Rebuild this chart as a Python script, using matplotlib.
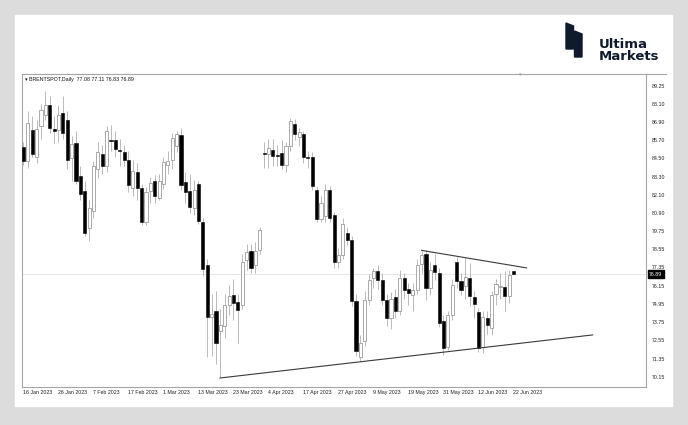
import matplotlib
matplotlib.use('Agg')
import matplotlib.pyplot as plt
from matplotlib.patches import Rectangle, Polygon
import numpy as np

# daily OHLC, 16 Jan 2023 .. 22 Jun 2023 (one bar per trading day)
opens = [85.23, 84.31, 86.39, 84.57, 86.61, 87.37, 88.03, 86.43, 86.39, 87.50,
         87.04, 84.53, 85.49, 83.37, 82.34, 79.93, 81.07, 83.83, 84.79, 83.98,
         85.69, 85.71, 85.05, 84.92, 84.42, 82.56, 83.61, 82.56, 80.33, 82.34,
         83.00, 81.90, 82.82, 84.04, 84.42, 85.29, 86.02, 82.95, 82.38, 81.25,
         82.82, 80.33, 77.48, 74.07, 74.46, 73.15, 73.47, 74.90, 75.55, 75.07,
         74.90, 77.85, 78.44, 77.52, 78.51, 84.82, 84.79, 85.07, 84.72, 84.86,
         84.05, 85.29, 86.76, 85.88, 86.10, 84.57, 84.57, 82.45, 80.54, 80.70,
         82.40, 80.81, 77.70, 78.18, 79.60, 79.17, 75.16, 71.44, 72.49, 75.23,
         76.65, 77.13, 76.54, 75.23, 74.02, 75.38, 74.46, 76.65, 75.95, 75.51,
         75.88, 77.57, 78.22, 75.99, 77.48, 76.98, 73.80, 72.09, 74.20, 77.68,
         76.43, 76.10, 76.65, 75.38, 74.42, 72.09, 74.02, 73.37, 75.62, 76.04,
         76.04, 75.49, 77.08]
highs = [85.60, 87.59, 87.30, 87.00, 88.10, 88.95, 88.58, 87.30, 88.00, 88.58,
         87.60, 86.00, 86.30, 84.00, 83.00, 81.80, 84.30, 85.60, 85.40, 86.60,
         86.70, 86.30, 85.80, 85.40, 85.00, 84.40, 84.20, 82.80, 82.60, 83.30,
         83.40, 83.50, 84.60, 85.00, 86.20, 86.32, 86.50, 83.60, 83.50, 83.10,
         83.00, 80.60, 77.90, 75.60, 75.80, 74.60, 75.60, 76.20, 76.60, 75.60,
         78.20, 78.90, 78.90, 79.00, 80.00, 85.60, 85.80, 85.80, 85.40, 85.70,
         85.60, 87.15, 87.10, 86.50, 86.30, 85.00, 84.90, 82.70, 82.00, 82.80,
         82.70, 81.00, 78.60, 80.60, 80.00, 79.40, 75.60, 72.90, 75.80, 76.90,
         77.30, 77.50, 77.00, 75.60, 75.70, 75.90, 77.20, 77.00, 76.30, 76.30,
         77.90, 78.40, 78.50, 77.70, 78.20, 77.30, 74.20, 74.50, 76.60, 78.00,
         77.00, 78.00, 77.60, 75.80, 74.70, 74.50, 74.50, 75.80, 76.60, 77.00,
         77.10, 77.20, 77.11]
lows = [84.05, 83.90, 84.60, 84.20, 85.80, 87.00, 86.20, 85.50, 85.60, 85.80,
        83.80, 83.00, 82.80, 81.80, 79.40, 79.06, 80.60, 83.20, 83.50, 83.60,
        85.00, 84.60, 84.00, 84.00, 82.30, 82.00, 81.80, 80.10, 80.10, 81.60,
        81.60, 81.80, 82.50, 83.50, 83.80, 84.90, 82.40, 81.60, 80.90, 80.80,
        80.20, 76.80, 71.44, 71.50, 71.00, 70.12, 72.70, 74.20, 73.90, 72.40,
        74.60, 77.20, 77.00, 77.00, 78.20, 83.90, 83.90, 84.00, 84.00, 83.80,
        83.60, 85.00, 85.70, 85.30, 84.20, 83.90, 82.40, 80.30, 80.30, 80.30,
        80.30, 77.30, 77.30, 77.90, 78.80, 74.80, 71.50, 71.20, 72.20, 74.90,
        76.00, 75.90, 74.90, 73.50, 73.30, 74.00, 74.20, 75.30, 74.90, 74.50,
        75.60, 77.00, 75.20, 75.50, 76.50, 73.40, 71.60, 71.90, 73.90, 76.00,
        75.50, 75.30, 74.80, 74.00, 71.80, 71.70, 73.00, 72.90, 74.90, 75.30,
        74.50, 75.00, 76.83]
closes = [84.31, 86.83, 84.79, 86.45, 87.70, 88.03, 86.50, 86.32, 87.37, 86.17,
          84.42, 85.45, 83.00, 82.19, 79.60, 81.25, 83.98, 84.92, 84.02, 86.28,
          85.62, 85.14, 84.99, 84.40, 82.73, 83.70, 82.56, 80.33, 82.29, 82.89,
          82.05, 83.04, 84.24, 84.31, 85.84, 86.10, 82.73, 82.29, 81.29, 82.45,
          80.41, 77.26, 74.11, 74.28, 72.38, 73.58, 74.90, 75.44, 75.00, 74.57,
          77.70, 78.35, 77.30, 78.44, 79.82, 84.78, 85.18, 84.64, 84.68, 84.09,
          85.29, 86.93, 86.10, 86.23, 84.57, 84.52, 82.67, 80.54, 81.57, 82.45,
          80.60, 77.70, 78.18, 80.22, 79.17, 75.12, 71.83, 72.38, 75.23, 76.54,
          77.13, 76.54, 75.23, 74.02, 75.29, 74.46, 76.65, 75.88, 75.66, 75.88,
          77.52, 78.18, 75.99, 77.19, 77.04, 73.69, 72.05, 74.24, 76.21, 76.43,
          75.88, 76.69, 75.44, 74.94, 72.05, 74.07, 73.54, 75.55, 76.26, 76.10,
          75.44, 76.87, 76.89]

date_labels = ['16 Jan 2023', '26 Jan 2023', '7 Feb 2023', '17 Feb 2023', '1 Mar 2023',
               '13 Mar 2023', '23 Mar 2023', '4 Apr 2023', '17 Apr 2023', '27 Apr 2023',
               '9 May 2023', '19 May 2023', '31 May 2023', '12 Jun 2023', '22 Jun 2023']
price_ticks = [89.25, 88.10, 86.90, 85.70, 84.50, 83.30, 82.10, 80.90, 79.75,
               78.55, 77.35, 76.15, 74.95, 73.75, 72.55, 71.35, 70.15]
last_price = 76.89

# hand-drawn trendlines (bar index, price)
upper_trend_x = [91, 115]
upper_trend_y = [78.46, 77.31]
lower_trend_x = [44.9, 130.1]
lower_trend_y = [70.08, 72.91]

W, H = 688, 425
def fx(x): return x / W
def fy(y): return 1 - y / H

fig = plt.figure(figsize=(W / 100, H / 100), dpi=100, facecolor='#dcdcdc')
panel = Rectangle((fx(15), fy(406)), fx(657), (406 - 15) / H,
                  transform=fig.transFigure, color='white', zorder=-10)
fig.add_artist(panel)

# logo
navy = '#101a2d'
fig.add_artist(Polygon([(fx(566), fy(23)), (fx(573.5), fy(26)), (fx(573.5), fy(49)), (fx(566), fy(49))],
                       closed=True, transform=fig.transFigure, color=navy))
fig.add_artist(Polygon([(fx(574.5), fy(31)), (fx(582), fy(34)), (fx(582), fy(57)), (fx(574.5), fy(57))],
                       closed=True, transform=fig.transFigure, color=navy))
fig.text(fx(599), fy(47.5), 'Ultima', fontsize=9.5, fontweight='bold', color=navy, va='baseline')
fig.text(fx(599), fy(59.5), 'Markets', fontsize=9.5, fontweight='bold', color=navy, va='baseline')

ax = fig.add_axes([fx(22), fy(387), (646 - 22) / W, (387 - 74) / H])
ax.set_facecolor('white')

n = len(opens)
idx = np.arange(n)
o = np.array(opens); c = np.array(closes)
hi = np.array(highs); lo = np.array(lows)
up = c >= o

ax.vlines(idx, lo, hi, color='#b0b0b0', lw=0.6, zorder=2)
body_bot = np.minimum(o, c)
body_h = np.maximum(np.abs(c - o), 0.07)
ax.bar(idx[up], body_h[up], bottom=body_bot[up], width=0.7,
       color='white', edgecolor='#9c9c9c', lw=0.6, zorder=3)
ax.bar(idx[~up], body_h[~up], bottom=body_bot[~up], width=0.7,
       color='black', edgecolor='black', lw=0.4, zorder=3)

ax.axhline(last_price, color='#e2e2e2', lw=0.6, zorder=1)
ax.plot(upper_trend_x, upper_trend_y, color='#3a3a3a', lw=0.8, zorder=4)
ax.plot(lower_trend_x, lower_trend_y, color='#3a3a3a', lw=0.8, zorder=4)

ax.set_xlim(-0.34, -0.34 + 624 / 4.375)
ax.set_ylim(69.49, 69.49 + 313 / 15.23)

lab_font = dict(family=['Liberation Sans', 'DejaVu Sans'], size=3.8, color='#222222')
ax.set_xticks(np.arange(len(date_labels)) * 8)
ax.set_xticklabels(date_labels, ha='left', **lab_font)
ax.yaxis.tick_right()
ax.set_yticks(price_ticks)
ax.set_yticklabels([f'{p:.2f}' for p in price_ticks], **lab_font)
ax.tick_params(axis='x', length=0, pad=2.5)
ax.tick_params(axis='y', length=0, pad=4)
for s in ax.spines.values():
    s.set_color('#a6a6a6')
    s.set_linewidth(0.8)

# current price tag
ax.annotate(f'{last_price:.2f}', xy=(1.0, last_price), xycoords=('axes fraction', 'data'),
            xytext=(2.2, 0), textcoords='offset points', ha='left', va='center',
            family=['Liberation Sans', 'DejaVu Sans'], size=3.8, color='white',
            bbox=dict(boxstyle='square,pad=0.25', fc='black', ec='black'), annotation_clip=False)

# top border continues over the price column
fig.add_artist(plt.Line2D([fx(646), fx(666)], [fy(74), fy(74)], color='#a6a6a6', lw=0.8))
fig.text(fx(520), fy(74.5), '\u25be', fontsize=3.5, color='#999999', ha='center', va='center',
         family=['DejaVu Sans'])

fig.text(fx(25), fy(79), '\u25be BRENTSPOT,Daily  77.08 77.11 76.83 76.89',
         family=['Liberation Sans', 'DejaVu Sans'], size=3.8, color='#111111', va='center')

fig.savefig('out.png', dpi=100, facecolor=fig.get_facecolor())
